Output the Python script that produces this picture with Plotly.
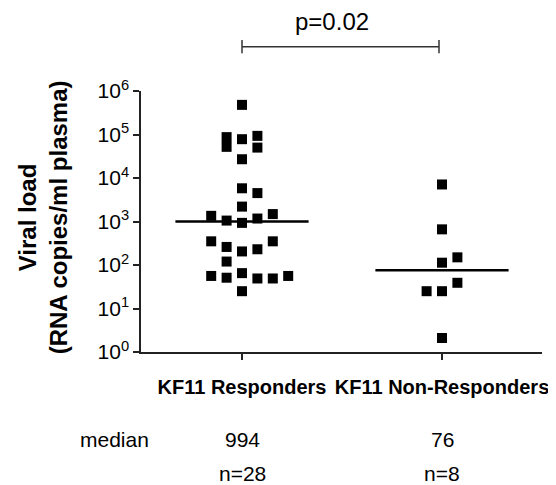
import plotly.graph_objects as go

# ---- data ----
groups = ["KF11 Responders", "KF11 Non-Responders"]
group_pos = [1, 2]
responders = [480000, 87000, 52000, 78000, 93000, 50000, 27000, 5800, 4500, 2200,
              1350, 1480, 1050, 930, 1170, 350, 350, 260, 205, 230,
              120, 56, 51, 65, 49, 49, 56, 25]
responders_col = [0, -1, -1, 0, 1, 1, 0, 0, 1, 0,
                  -2, 2, -1, 0, 1, -2, 2, -1, 0, 1,
                  -1, -2, -1, 0, 1, 2, 3, 0]
nonresponders = [7100, 660, 113, 150, 39, 25, 25, 2.1]
nonresponders_col = [0, 0, 0, 1, 1, -1, 0, 0]
medians = [994, 76]
counts = [28, 8]
ytick_vals = [1, 10, 100, 1000, 10000, 100000, 1000000]
ytick_text = ["10<sup>%d</sup>" % i for i in range(7)]
p_text = "p=0.02"

JIT = 0.077
HALF = 0.333
FONT = "Arial, Liberation Sans, Helvetica, sans-serif"

fig = go.Figure()
for pos, vals, cols in [(group_pos[0], responders, responders_col),
                        (group_pos[1], nonresponders, nonresponders_col)]:
    fig.add_trace(go.Scatter(
        x=[pos + c * JIT for c in cols], y=vals, mode="markers",
        marker=dict(symbol="square", size=10, color="black", line=dict(width=0)),
        showlegend=False, hoverinfo="y"))

for pos, m in zip(group_pos, medians):
    fig.add_trace(go.Scatter(
        x=[pos - HALF, pos + HALF], y=[m, m], mode="lines",
        line=dict(color="black", width=2.5), showlegend=False, hoverinfo="skip"))

# page body has an 8px margin, so the figure is 8px smaller than the window
fig.update_layout(
    width=548, height=477,
    margin=dict(l=133, r=7, t=83, b=133),
    paper_bgcolor="white", plot_bgcolor="white",
    font=dict(family=FONT, color="black"),
    xaxis=dict(range=[0.495, 2.5], showline=True, linecolor="#222", linewidth=1.5,
               ticks="outside", ticklen=6, tickwidth=1.5, tickcolor="#222",
               tickvals=group_pos, ticktext=["<b>%s</b>" % g for g in groups],
               tickfont=dict(size=20, family=FONT), ticklabelstandoff=10,
               ticklabeloverflow="allow",
               showgrid=False, zeroline=False),
    yaxis=dict(type="log", range=[0, 6], showline=True, linecolor="#222", linewidth=1.5,
               ticks="outside", ticklen=6, tickwidth=1.5, tickcolor="#222",
               tickvals=ytick_vals, ticktext=ytick_text,
               tickfont=dict(size=21, family=FONT),
               showgrid=False, zeroline=False),
)

# significance bracket
by = 1.170
fig.add_shape(type="line", xref="x", yref="paper", x0=group_pos[0], x1=1.985, y0=by, y1=by,
              line=dict(color="#333", width=1.5))
for xx in [group_pos[0], 1.985]:
    fig.add_shape(type="line", xref="x", yref="paper", x0=xx, x1=xx, y0=by - 0.025, y1=by + 0.025,
                  line=dict(color="#333", width=1.5))
fig.add_annotation(x=1.45, y=1.268, xref="x", yref="paper", text=p_text, showarrow=False,
                   font=dict(size=24), xanchor="center", yanchor="middle")

# y title
fig.add_annotation(x=-0.245, y=0.515, xref="paper", yref="paper",
                   text="<b>Viral load<br>(RNA copies/ml plasma)</b>", textangle=-90,
                   showarrow=False, font=dict(size=24), xanchor="center", yanchor="middle")

# median / n rows
fig.add_annotation(x=-0.066, y=-0.337, xref="paper", yref="paper", text="median", showarrow=False,
                   font=dict(size=21), xanchor="center", yanchor="middle")
for pos, m, n in zip(group_pos, medians, counts):
    fig.add_annotation(x=pos, y=-0.337, xref="x", yref="paper", text=str(m), showarrow=False,
                       font=dict(size=21), xanchor="center", yanchor="middle")
    fig.add_annotation(x=pos, y=-0.467, xref="x", yref="paper", text="n=%d" % n, showarrow=False,
                       font=dict(size=21), xanchor="center", yanchor="middle")

fig.write_html("out.html")
